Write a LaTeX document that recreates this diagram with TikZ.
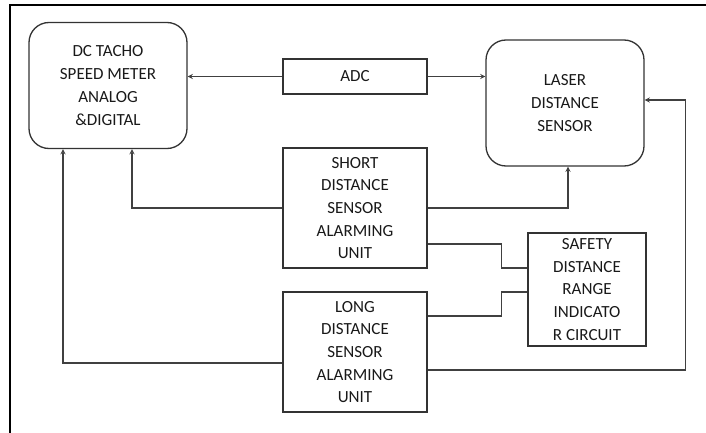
\documentclass[tikz,border=0pt]{standalone}
\usepackage{fontspec}
\setmainfont{Carlito}
\begin{document}
\begin{tikzpicture}[x=1pt,y=-1pt,
  blk/.style={draw=black!80,line width=1.3pt,align=center,inner sep=0pt,
    font=\fontsize{17}{22.7}\selectfont,text=black!90},
  rblk/.style={blk,rounded corners=20pt,minimum width=158pt,minimum height=126pt},
  sblk/.style={blk,minimum width=144pt},
  wire/.style={draw=black!75,line width=1.3pt},
  arr/.style={wire,->,>=stealth}]
\useasboundingbox (0,0) rectangle (706,433);
\draw[line width=2pt] (10,433) -- (10,5) -- (706,5);

\node[rblk] (dc) at (108,85.5) {DC TACHO\\SPEED METER\\ANALOG\\\&DIGITAL};
\node[sblk,minimum height=35pt] (adc) at (355,76.5) {ADC};
\node[rblk] (laser) at (565,103) {LASER\\DISTANCE\\SENSOR};
\node[sblk,minimum height=120pt] (short) at (355,208) {SHORT\\DISTANCE\\SENSOR\\ALARMING\\UNIT};
\node[sblk,minimum height=120pt] (long) at (355,352) {LONG\\DISTANCE\\SENSOR\\ALARMING\\UNIT};
\node[blk,minimum width=118pt,minimum height=113pt] (safety) at (587,289.5) {SAFETY\\DISTANCE\\RANGE\\INDICATO\\R CIRCUIT};

\draw[arr] (adc.west) -- (adc.west -| dc.east);
\draw[arr] (adc.east) -- (adc.east -| laser.west);
\draw[arr] (short.west) -| ([xshift=24pt]dc.south);
\draw[arr] (short.east) -| ([xshift=3pt]laser.south);
\draw[arr] ([yshift=-11pt]long.west) -| ([xshift=-45pt]dc.south);
\draw[arr] ([yshift=-18pt]long.east) -| ([xshift=41pt,yshift=3pt]laser.east) -- ([yshift=3pt]laser.east);
\draw[wire] ([yshift=-36pt]short.east) -- ++(74,0) |- ([yshift=21.5pt]safety.west);
\draw[wire] ([yshift=36pt]long.east) -- ++(74,0) |- ([yshift=-2.5pt]safety.west);
\end{tikzpicture}
\end{document}
